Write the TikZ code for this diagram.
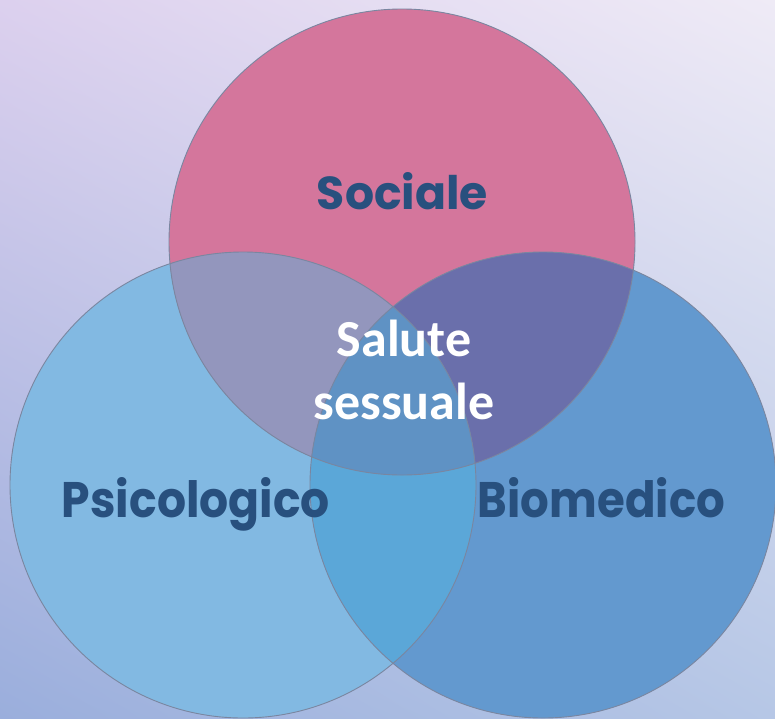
\documentclass[tikz,border=0pt]{standalone}
\usepackage{fontspec}
\usepackage{graphicx}
\setmainfont{Carlito}
\newfontfamily\geo{Poppins}
\usetikzlibrary{shadings}
\definecolor{bgTL}{HTML}{DCD0EE}
\definecolor{bgTR}{HTML}{EFEBF6}
\definecolor{bgBL}{HTML}{9AAEDC}
\definecolor{bgBR}{HTML}{B6C7E6}
\definecolor{socC}{HTML}{D4769C}
\definecolor{psiC}{HTML}{82B9E2}
\definecolor{bioC}{HTML}{6399CF}
\definecolor{spC}{HTML}{9396BD}
\definecolor{sbC}{HTML}{6A6FAB}
\definecolor{pbC}{HTML}{5BA7D8}
\definecolor{spbC}{HTML}{5F92C4}
\definecolor{labC}{HTML}{28507E}
\definecolor{edgeC}{HTML}{7A86A0}
\tikzset{
  ring/.style={draw=edgeC, line width=0.9pt},
  biglabel/.style={text=labC, inner sep=0pt, anchor=base},
  centerlabel/.style={text=white, inner sep=0pt, align=center, font=\bfseries\fontsize{52}{63}\selectfont}
}
\begin{document}
\begin{tikzpicture}[x=1pt,y=-1pt]
\useasboundingbox (0,0) rectangle (775,718);
\clip (0,0) rectangle (775,718);
\shade[upper left=bgTL, upper right=bgTR, lower left=bgBL, lower right=bgBR] (0,0) rectangle (775,718);
\coordinate (S) at (402,242);
\coordinate (P) at (243,485);
\coordinate (B) at (543,485);
\def\R{233}
\fill[psiC] (P) circle (\R);
\fill[bioC] (B) circle (\R);
\fill[socC] (S) circle (\R);
\begin{scope}\clip (S) circle (\R); \fill[spC] (P) circle (\R); \end{scope}
\begin{scope}\clip (S) circle (\R); \fill[sbC] (B) circle (\R); \end{scope}
\begin{scope}\clip (P) circle (\R); \fill[pbC] (B) circle (\R); \end{scope}
\begin{scope}\clip (S) circle (\R); \clip (P) circle (\R); \fill[spbC] (B) circle (\R); \end{scope}
\draw[ring] (S) circle (\R);
\draw[ring] (P) circle (\R);
\draw[ring] (B) circle (\R);
\node[biglabel] (soc) at (402.5,209) {\resizebox{171pt}{37pt}{\geo\bfseries Sociale}};
\node[biglabel] (psi) at (196,517) {\resizebox{268pt}{40pt}{\geo\bfseries Psicologico}};
\node[biglabel] (bio) at (601.5,517) {\resizebox{247pt}{40pt}{\geo\bfseries Biomedico}};
\node[centerlabel] (ss) at (404,370) {Salute\\sessuale};
\end{tikzpicture}
\end{document}
